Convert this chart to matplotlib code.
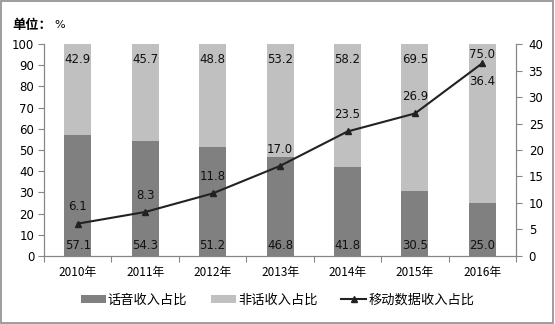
import matplotlib.pyplot as plt
import numpy as np
import matplotlib
from matplotlib.patches import Rectangle

plt.rcParams['font.family'] = ['DejaVu Sans', 'Noto Sans CJK SC']

years = ['2010年', '2011年', '2012年', '2013年', '2014年', '2015年', '2016年']
voice = [57.1, 54.3, 51.2, 46.8, 41.8, 30.5, 25.0]
non_voice = [42.9, 45.7, 48.8, 53.2, 58.2, 69.5, 75.0]
data_share = [6.1, 8.3, 11.8, 17.0, 23.5, 26.9, 36.4]

dark = '#808080'
light = '#c0c0c0'
axis_col = '#868686'
cjk = ['Noto Sans CJK SC', 'DejaVu Sans']

fig = plt.figure(figsize=(5.55, 3.24), dpi=100)
ax = fig.add_axes([0.0793, 0.21, 0.8507, 0.654])
ax2 = ax.twinx()

x = np.arange(len(years))
width = 0.4

ax.bar(x, voice, width, color=dark, label='话音收入占比', zorder=2)
ax.bar(x, non_voice, width, bottom=voice, color=light, label='非话收入占比', zorder=2)

ax.set_xlim(-0.5, len(years) - 0.5)
ax.set_ylim(0, 100)
ax.set_yticks(np.arange(0, 101, 10))

# x ticks sit between the categories, labels at the centres
ax.set_xticks(np.arange(-0.5, len(years), 1.0))
ax.set_xticklabels([])
ax.set_xticks(x, minor=True)
ax.set_xticklabels(years, minor=True, fontfamily=cjk, fontsize=8.5)
ax.tick_params(axis='x', which='minor', length=0, pad=7)
ax.tick_params(axis='x', which='major', length=4, color=axis_col)
ax.tick_params(axis='y', length=4, color=axis_col, labelsize=8.5, pad=3)

for sp in ['top']:
    ax.spines[sp].set_visible(False)
    ax2.spines[sp].set_visible(False)
for sp in ['left', 'bottom', 'right']:
    ax.spines[sp].set_color(axis_col)
    ax2.spines[sp].set_color(axis_col)

ax2.plot(x, data_share, color='#222222', linewidth=1.5, marker='^', markersize=5,
         label='移动数据收入占比', zorder=3)
ax2.set_ylim(0, 40)
ax2.set_yticks(np.arange(0, 41, 5))
ax2.tick_params(axis='y', length=4, color=axis_col, labelsize=8.5, pad=5)
ax2.set_xlim(-0.5, len(years) - 0.5)

# value labels
for i in range(len(years)):
    ax.text(x[i], 5, f'{voice[i]:.1f}', ha='center', va='center', fontsize=8.5, color='#111111')
    ny = 95 if i == len(years) - 1 else 92.5
    ax.text(x[i], ny, f'{non_voice[i]:.1f}', ha='center', va='center', fontsize=8.5, color='#111111')
    if i == len(years) - 1:
        ax2.annotate(f'{data_share[i]:.1f}', (x[i], data_share[i]), xytext=(0, -13),
                     textcoords='offset points', ha='center', va='center', fontsize=8.5, color='#111111')
    else:
        ax2.annotate(f'{data_share[i]:.1f}', (x[i], data_share[i]), xytext=(0, 12),
                     textcoords='offset points', ha='center', va='center', fontsize=8.5, color='#111111')

fig.text(0.022, 0.923, '单位：', fontfamily=cjk, fontsize=9.5, fontweight='bold', va='center')
fig.text(0.098, 0.923, '%', fontsize=8, va='center')

h1, l1 = ax.get_legend_handles_labels()
h2, l2 = ax2.get_legend_handles_labels()
leg = fig.legend(h1 + h2, l1 + l2, loc='center', bbox_to_anchor=(0.5, 0.074), ncol=3,
                 frameon=False, prop={'family': cjk, 'size': 9.5}, handlelength=1.9,
                 handleheight=0.6, columnspacing=1.8, handletextpad=0.15)

fig.patches.append(Rectangle((0.002, 0.003), 0.995, 0.994, transform=fig.transFigure,
                             fill=False, edgecolor='#8c8c8c', linewidth=1.2))

fig.savefig('out.png', dpi=100)
